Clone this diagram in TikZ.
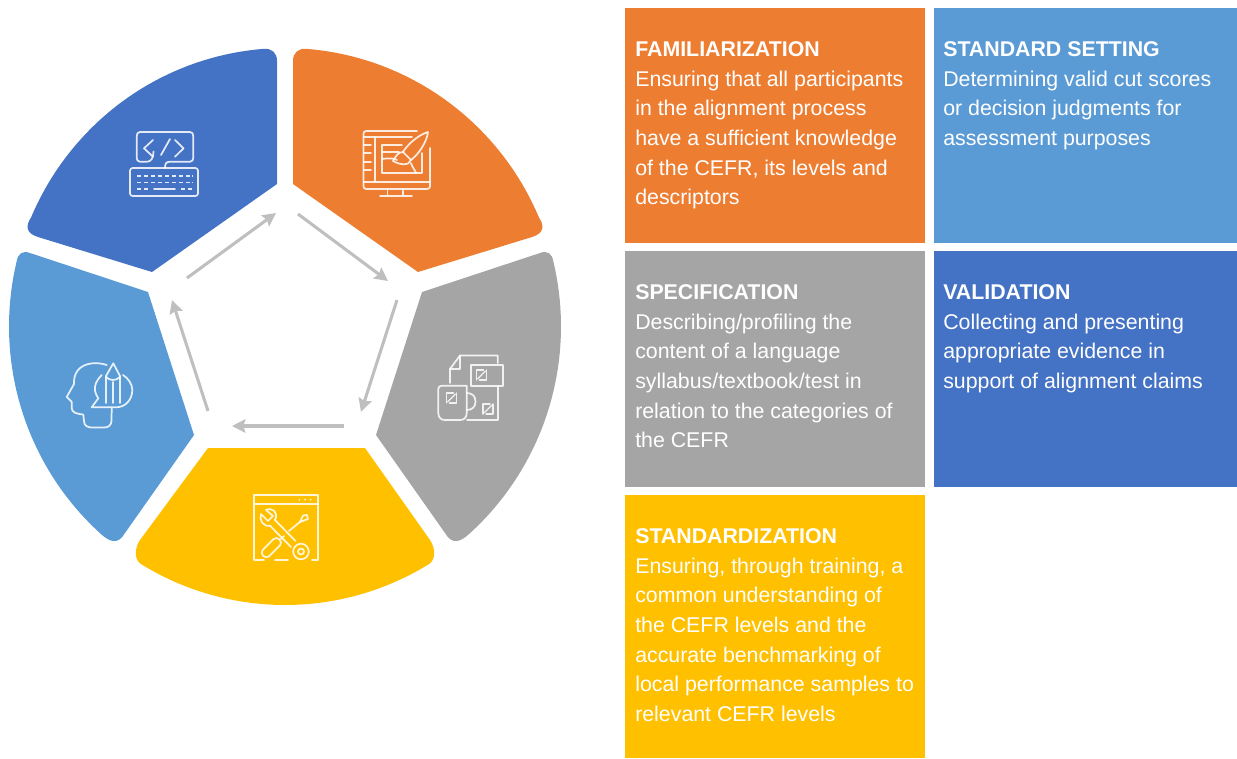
\documentclass[tikz,border=0pt]{standalone}
\usepackage{fontspec}
\setmainfont{Liberation Sans}
\usetikzlibrary{arrows.meta}
\definecolor{cOrange}{HTML}{ED7D31}
\definecolor{cLight}{HTML}{5B9BD5}
\definecolor{cGray}{HTML}{A5A5A5}
\definecolor{cYellow}{HTML}{FFC000}
\definecolor{cDark}{HTML}{4472C4}
\definecolor{cArrow}{HTML}{BFBFBF}
\tikzset{
  x=0.75pt,y=-0.75pt,
  rimline/.style={samples=40},
  flow/.style={draw=cArrow,line width=2.3pt,-{Stealth[length=10pt,width=10pt,inset=1.5pt]}},
  icon/.style={draw=white,opacity=.85,line width=1.3pt,line cap=round,line join=round,fill=none},
  thin icon/.style={icon,line width=1pt},
  dots/.style={icon,line cap=butt,dash pattern=on 3pt off 2.2pt,line width=1.4pt},
  label/.style={anchor=north west,inner sep=0pt,text=white,align=left,
    font=\fontsize{16pt}{22.2pt}\selectfont},
}
\begin{document}
\begin{tikzpicture}
\useasboundingbox (0,0) rectangle (1237,758);
% wheel segments
\fill[cDark] (277,184) -- (277,61) .. controls (277,53) and (272,48) .. (263.3,48.9)
  -- plot[rimline,domain=265.5:203] ({285+276*cos(\x)},{326.5+278.5*sin(\x)})
  .. controls (26,225) and (25,233) .. (38,237) -- (152,272) -- cycle;
\fill[cOrange] (293,184) -- (293,61) .. controls (293,53) and (298,48) .. (306.7,48.9)
  -- plot[rimline,domain=274.5:337] ({285+276*cos(\x)},{326.5+278.5*sin(\x)})
  .. controls (544,225) and (545,233) .. (532,237) -- (418,272) -- cycle;
\fill[cGray] (422,292) -- (540,253) .. controls (548,250) and (552,254) .. (553.4,261.5)
  -- plot[rimline,domain=346.5:408.3] ({285+276*cos(\x)},{326.5+278.5*sin(\x)})
  .. controls (460,542) and (452,545) .. (445,533) -- (376,435) -- cycle;
\fill[cLight] (148,292) -- (30,253) .. controls (22,250) and (18,254) .. (16.6,261.5)
  -- plot[rimline,domain=193.5:131.7] ({285+276*cos(\x)},{326.5+278.5*sin(\x)})
  .. controls (110,542) and (118,545) .. (125,533) -- (194,435) -- cycle;
\fill[cYellow] (208,448) -- (365,448) -- (430,540) .. controls (436,549) and (436,561) .. (427.2,565.2)
  -- plot[rimline,domain=59:121] ({285+276*cos(\x)},{326.5+278.5*sin(\x)})
  .. controls (134,561) and (134,549) .. (140,540) -- cycle;
% arrows
\coordinate (a1s) at (187,278); \coordinate (a1e) at (276,213);
\coordinate (a2s) at (298,214); \coordinate (a2e) at (388,281);
\coordinate (a3s) at (397,300); \coordinate (a3e) at (361,412);
\coordinate (a4s) at (344,426); \coordinate (a4e) at (232,426);
\coordinate (a5s) at (208,411); \coordinate (a5e) at (172,300);
\draw[flow] (a1s) -- (a1e);
\draw[flow] (a2s) -- (a2e);
\draw[flow] (a3s) -- (a3e);
\draw[flow] (a4s) -- (a4e);
\draw[flow] (a5s) -- (a5e);
% icon: code and keyboard
\draw[icon] (153.5,151.5) .. controls (153.5,158) and (151,161.7) .. (147,161.7) -- (140,161.7)
  .. controls (138,161.7) and (136.7,160) .. (136.7,158) -- (136.7,136) .. controls (136.7,133.5) and (138,132) .. (140,132)
  -- (190,132) .. controls (192,132) and (193.3,133.5) .. (193.3,136) -- (193.3,158)
  .. controls (193.3,160) and (192,161.7) .. (190,161.7) -- (170,161.7) .. controls (166,161.7) and (165,164) .. (165,168);
\draw[icon,rounded corners=2pt] (130,168) rectangle (198,196);
\draw[icon] (153,140) -- (144,148.3) -- (153,156.7);
\draw[icon] (170,139) -- (161,155);
\draw[icon] (175,140) -- (183.5,148.3) -- (175,156.7);
\draw[dots] (137,175.7) -- (193,175.7);
\draw[dots] (137,182.5) -- (193,182.5);
\draw[dots] (137,189.3) -- (149,189.3);
\draw[icon] (154,189.3) -- (175,189.3);
\draw[dots] (181,189.3) -- (193,189.3);
% icon: monitor and brush
\draw[icon] (417,131) -- (366,131) .. controls (364.5,131) and (363.5,132) .. (363.5,134) -- (363.5,186)
  .. controls (363.5,188) and (364.5,189) .. (366,189) -- (427,189) .. controls (429,189) and (430,188) .. (430,186) -- (430,148);
\draw[icon] (364,137) -- (412,137);
\draw[icon] (364,182) -- (430,182);
\draw[icon] (375,137) -- (375,182);
\foreach \yy in {145,153,162,170} \draw[icon] (364,\yy) -- (371,\yy);
\draw[icon] (402,145) -- (382,145) -- (382,173) -- (422,173) -- (422,153);
\draw[icon] (382,152) -- (399,152);
\draw[icon] (382,159) .. controls (388,158) and (394,158) .. (397,160);
\draw[icon] (428,132) .. controls (418,135) and (407,145) .. (403,152) -- (411,160) .. controls (418,155) and (427,142) .. (428,132);
\draw[icon] (403,152) .. controls (398,152) and (396,156) .. (393,161) .. controls (400,165) and (409,166) .. (411,160);
\draw[icon] (411,163) .. controls (412,167) and (415,170) .. (416,173);
\draw[icon] (387.5,189) -- (387.5,195.5);
\draw[icon] (403,189) -- (403,195.5);
\draw[icon] (380,196) -- (412,196);
% icon: papers and mug
\draw[icon] (450,383) -- (450,369) -- (460,355.5) -- (497.7,355.5) -- (497.7,363);
\draw[icon] (460,355.5) -- (460,369) -- (450,369);
\draw[icon] (497.7,386) -- (497.7,420) -- (467,420);
\draw[icon] (471,365) rectangle (503.3,385.7);
\draw[icon] (466.7,385.7) -- (442,385.7) .. controls (439.5,385.7) and (438.3,387) .. (438.3,389) -- (438.3,413)
  .. controls (438.3,417.5) and (441,420) .. (445,420) -- (460,420) .. controls (464,420) and (466.7,417.5) .. (466.7,413) -- (466.7,385.7);
\draw[icon] (466.7,393) .. controls (472,393) and (475.5,396) .. (475.5,401.5) .. controls (475.5,407) and (472,410) .. (466.7,410);
\foreach \cx/\cy in {481.5/375,451.5/398,488/409}{
  \draw[thin icon] (\cx-5,\cy+5) -- (\cx-5,\cy-5) -- (\cx+2,\cy-5);
  \draw[thin icon] (\cx+5,\cy-5) -- (\cx+5,\cy+5) -- (\cx-2,\cy+5);
  \draw[thin icon] (\cx-4,\cy+4) -- (\cx+4,\cy-4);
}
% icon: window and tools
\draw[icon] (264,560) -- (254,560) -- (254,495) -- (318.3,495) -- (318.3,560) -- (312,560);
\draw[icon] (275,560) -- (288,560);
\draw[icon] (254,504.3) -- (318.3,504.3);
\fill[white,opacity=.85] (299.3,499.7) circle[radius=1] (305,499.7) circle[radius=1] (310.7,499.7) circle[radius=1];
\draw[icon] (275,520) -- (295.5,541);
\draw[icon] (270,525.7) -- (291,547);
\draw[icon] (270,525.7) .. controls (263,527) and (259,520) .. (261,514) -- (268,521) -- (273,516) -- (266,510) .. controls (272,507) and (279,512) .. (275,520);
\draw[icon] (301,551.5) circle[radius=7.8];
\draw[icon] (301,551.5) circle[radius=3];
\draw[icon,rounded corners=3pt,rotate around={45:(271,548)}] (260,543.5) rectangle (283,552.5);
\draw[icon] (281,539) -- (284,536);
\draw[icon] (289,531) -- (301,521);
\draw[icon] (300,522) -- (303,515.5) -- (307,515) -- (308,519) -- cycle;
% icon: head and pencil
\draw[icon] (106.7,365) .. controls (98,362) and (85,362) .. (78,370) .. controls (74,375) and (74,380) .. (74,384)
  -- (66.7,397) -- (71.7,401.7) -- (71.7,408) .. controls (71.7,412) and (76,414) .. (83.3,414.5) -- (84,421)
  .. controls (84,426) and (88,427.5) .. (92,427.5) -- (104,427.5) .. controls (109,427.5) and (111,425) .. (111.5,421) -- (111.7,408.5);
\draw[icon] (101.7,375) .. controls (96.5,380) and (94,386) .. (95,391) .. controls (95.5,394) and (97,396) .. (98.3,398.3) -- (91.7,407.3)
  -- (116,407.3) .. controls (126,407.3) and (132.3,399) .. (132.3,390) .. controls (132.3,384) and (128,378) .. (123,375);
\draw[icon] (106,403) -- (106,376) -- (113.3,363.3) -- (120,376) -- (120,403);
\draw[icon] (106,377) .. controls (110,381) and (116,381) .. (120,377);
\draw[icon] (113,382) -- (113,403);
% cards
\fill[cOrange] (625,8) rectangle (925,243);
\fill[cLight] (934,8) rectangle (1237,243);
\fill[cGray] (625,251) rectangle (925,487);
\fill[cDark] (934,251) rectangle (1237,487);
\fill[cYellow] (625,495) rectangle (925,758);
\node[label] (famText) at (635,41.5) {\textbf{FAMILIARIZATION}\\Ensuring that all participants\\in the alignment process\\have a sufficient knowledge\\of the CEFR, its levels and\\descriptors};
\node[label] (stdText) at (943,41.5) {\textbf{STANDARD SETTING}\\Determining valid cut scores\\or decision judgments for\\assessment purposes};
\node[label] (specText) at (635,284.5) {\textbf{SPECIFICATION}\\Describing/profiling the\\content of a language\\syllabus/textbook/test in\\relation to the categories of\\the CEFR};
\node[label] (valText) at (943,284.5) {\textbf{VALIDATION}\\Collecting and presenting\\appropriate evidence in\\support of alignment claims};
\node[label] (stanText) at (635,528.5) {\textbf{STANDARDIZATION}\\Ensuring, through training, a\\common understanding of\\the CEFR levels and the\\accurate benchmarking of\\local performance samples to\\relevant CEFR levels};
\end{tikzpicture}
\end{document}
